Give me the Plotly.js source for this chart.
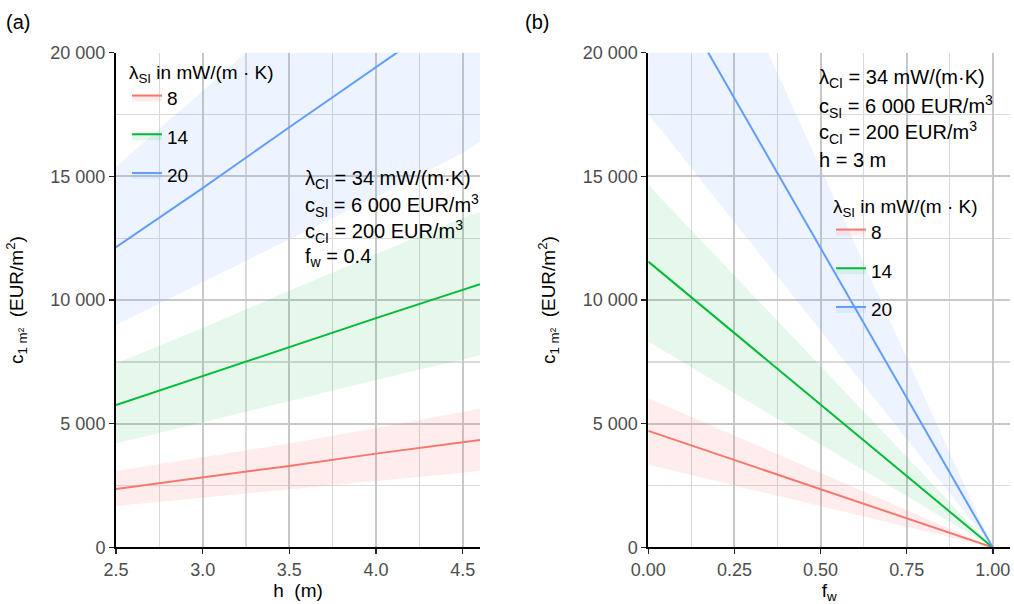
<!DOCTYPE html>
<html>
<head>
<meta charset="utf-8">
<script src="https://cdn.plot.ly/plotly-3.0.1.min.js"></script>
<style>html,body{margin:0;padding:0;background:#fff;}#chart{width:1014px;height:604px;}</style>
</head>
<body>
<div id="chart"></div>
<script>
// ---------- data ----------
const seriesNames = ['8', '14', '20'];
const seriesColors = ['#F8766D', '#00BA38', '#619CFF'];
const ribbonColors = ['rgba(248,118,109,0.13)', 'rgba(0,186,56,0.10)', 'rgba(97,156,255,0.11)'];

// Panel (a): cost vs h (fw = 0.4)
const hValues = [2.5, 3.0, 3.5, 4.0, 4.5, 4.6];
const aMid8   = [2365, 2825, 3294, 3791, 4264, 4345];
const aUp8    = [3092, 3640, 4200, 4830, 5460, 5610];
const aLo8    = [1677, 2010, 2350, 2700, 3030, 3092];
const aMid14  = [5752, 6932, 8110, 9270, 10410, 10638];
const aUp14   = [7437, 8870, 10380, 11870, 13330, 13549];
const aLo14   = [4204, 5060, 5920, 6770, 7600, 7770];
const aMid20  = [12134, 14528, 16985, 19420, 21850, 22330];
const aUp20   = [15392, 18450, 21570, 24660, 27750, 28360];
const aLo20   = [8993, 10720, 12440, 14180, 15950, 16403];

// Panel (b): cost vs fw (h = 3 m)
const fwValues = [0, 0.25, 0.5, 0.75, 1.0];
const bMid8   = [4709, 3530, 2355, 1177, 0];
const bUp8    = [6030, 4520, 3015, 1510, 0];
const bLo8    = [3340, 2505, 1670, 835, 0];
const bMid14  = [11553, 8665, 5776, 2888, 0];
const bUp14   = [14652, 10990, 7326, 3663, 0];
const bLo14   = [8320, 6240, 4160, 2080, 0];
const bMid20  = [24213, 18160, 12106, 6053, 0];
const bUp20   = [30675, 23006, 15337, 7669, 0];
const bLo20   = [17522, 13140, 8761, 4380, 0];

// ticks
const yTickVals = [0, 5000, 10000, 15000, 20000];
const yTickText = ['0', '5 000', '10 000', '15 000', '20 000'];
const yMinorVals = [2500, 7500, 12500, 17500];
const hTickVals = [2.5, 3.0, 3.5, 4.0, 4.5];
const hTickText = ['2.5', '3.0', '3.5', '4.0', '4.5'];
const hMinorVals = [2.75, 3.25, 3.75, 4.25];
const fwTickVals = [0, 0.25, 0.5, 0.75, 1.0];
const fwTickText = ['0.00', '0.25', '0.50', '0.75', '1.00'];
const fwMinorVals = [0.125, 0.375, 0.625, 0.875];

// ---------- traces ----------
const traces = [];
function addGroup(x, mid, up, lo, i, xa, ya, leg) {
  traces.push({x: x, y: lo, xaxis: xa, yaxis: ya, mode: 'lines', line: {width: 0, color: ribbonColors[i]},
    showlegend: false, hoverinfo: 'skip', legendgroup: leg + i, legend: leg});
  traces.push({x: x, y: mid, xaxis: xa, yaxis: ya, mode: 'lines', name: seriesNames[i],
    line: {width: 2, color: seriesColors[i]}, fill: 'tonexty', fillcolor: ribbonColors[i],
    legendgroup: leg + i, legend: leg, showlegend: true});
  traces.push({x: x, y: up, xaxis: xa, yaxis: ya, mode: 'lines', line: {width: 0, color: ribbonColors[i]},
    fill: 'tonexty', fillcolor: ribbonColors[i], showlegend: false, hoverinfo: 'skip',
    legendgroup: leg + i, legend: leg});
}
addGroup(hValues, aMid8, aUp8, aLo8, 0, 'x', 'y', 'legend');
addGroup(hValues, aMid14, aUp14, aLo14, 1, 'x', 'y', 'legend');
addGroup(hValues, aMid20, aUp20, aLo20, 2, 'x', 'y', 'legend');
addGroup(fwValues, bMid8, bUp8, bLo8, 0, 'x2', 'y2', 'legend2');
addGroup(fwValues, bMid14, bUp14, bLo14, 1, 'x2', 'y2', 'legend2');
addGroup(fwValues, bMid20, bUp20, bLo20, 2, 'x2', 'y2', 'legend2');

// ---------- layout ----------
const W = 1014, H = 604;
const FONT = 'Liberation Sans, Arial, sans-serif';
const yDom = [(H - 547.4) / H, (H - 52.7) / H];
const GRID = '#c8c8c8', MINOR = '#dadada';

function minorGrid(vals) {
  return {tickmode: 'array', tickvals: vals, ticks: '', showgrid: true, gridcolor: MINOR, gridwidth: 1.3};
}
function xAxisBase(dom, range, tv, tt, mv, title, anchor) {
  return {
    domain: dom, range: range, anchor: anchor, tickmode: 'array', tickvals: tv, ticktext: tt,
    showline: true, linecolor: '#000', linewidth: 2, ticks: 'outside', ticklen: 5, tickwidth: 1.5, tickcolor: '#222',
    tickfont: {size: 18, color: '#4d4d4d', family: FONT},
    showgrid: true, gridcolor: GRID, gridwidth: 2, zeroline: false,
    minor: minorGrid(mv),
    title: {text: title, font: {size: 19, color: '#000', family: FONT}, standoff: 2},
    fixedrange: true
  };
}
function yAxisBase(anchor) {
  return {
    domain: yDom, range: [0, 20000], anchor: anchor, tickmode: 'array', tickvals: yTickVals, ticktext: yTickText,
    showline: true, linecolor: '#000', linewidth: 2, ticks: 'outside', ticklen: 5, tickwidth: 1.5, tickcolor: '#222',
    tickfont: {size: 18, color: '#4d4d4d', family: FONT},
    showgrid: true, gridcolor: GRID, gridwidth: 2, zeroline: false,
    minor: minorGrid(yMinorVals),
    title: {text: 'c<sub>1 m²</sub>  (EUR/m<sup>2</sup>)', font: {size: 19, color: '#000', family: FONT}, standoff: 22},
    fixedrange: true
  };
}

const xa = xAxisBase([116 / W, 480 / W], [2.5, 4.6], hTickVals, hTickText, hMinorVals, 'h  (m)', 'y');
const xb = xAxisBase([648.3 / W, 1010 / W], [0, 1.05], fwTickVals, fwTickText, fwMinorVals, 'f<sub>w</sub>', 'y2');

const annFont = {size: 20, color: '#000', family: FONT};
function txt(x, y, t) {
  return {xref: 'paper', yref: 'paper', x: x / W, y: (H - y) / H, text: t, showarrow: false,
    xanchor: 'left', yanchor: 'middle', align: 'left', font: annFont};
}
const annotations = [
  txt(4, 22, '(a)'),
  txt(523, 22, '(b)'),
  txt(303, 179, 'λ<sub>CI</sub> = 34 mW/(m·K)'),
  txt(303, 206, 'c<sub>SI</sub> = 6 000 EUR/m<sup>3</sup>'),
  txt(303, 232, 'c<sub>CI</sub> = 200 EUR/m<sup>3</sup>'),
  txt(303, 257, 'f<sub>w</sub> = 0.4'),
  txt(817, 78, 'λ<sub>CI</sub> = 34 mW/(m·K)'),
  txt(817, 106, 'c<sub>SI</sub> = 6 000 EUR/m<sup>3</sup>'),
  txt(817, 133, 'c<sub>CI</sub> = 200 EUR/m<sup>3</sup>'),
  txt(817, 160, 'h = 3 m')
];

const legendStyle = (x, y) => ({
  x: x / W, y: (H - y) / H, xanchor: 'left', yanchor: 'top',
  bgcolor: 'rgba(0,0,0,0)', borderwidth: 0,
  font: {size: 19, color: '#000', family: FONT},
  title: {text: 'λ<sub>SI</sub> in mW/(m · K)', font: {size: 19, color: '#000', family: FONT}},
  traceorder: 'grouped', tracegroupgap: 11
});

const layout = {
  width: W, height: H,
  margin: {l: 0, r: 0, t: 0, b: 0},
  paper_bgcolor: '#fff', plot_bgcolor: '#fff',
  font: {family: FONT},
  xaxis: xa, yaxis: yAxisBase('x'),
  xaxis2: xb, yaxis2: yAxisBase('x2'),
  legend: legendStyle(127, 54),
  legend2: legendStyle(831, 188),
  annotations: annotations,
  showlegend: true
};

Plotly.newPlot('chart', traces, layout, {displayModeBar: false, staticPlot: true});
</script>
</body>
</html>
